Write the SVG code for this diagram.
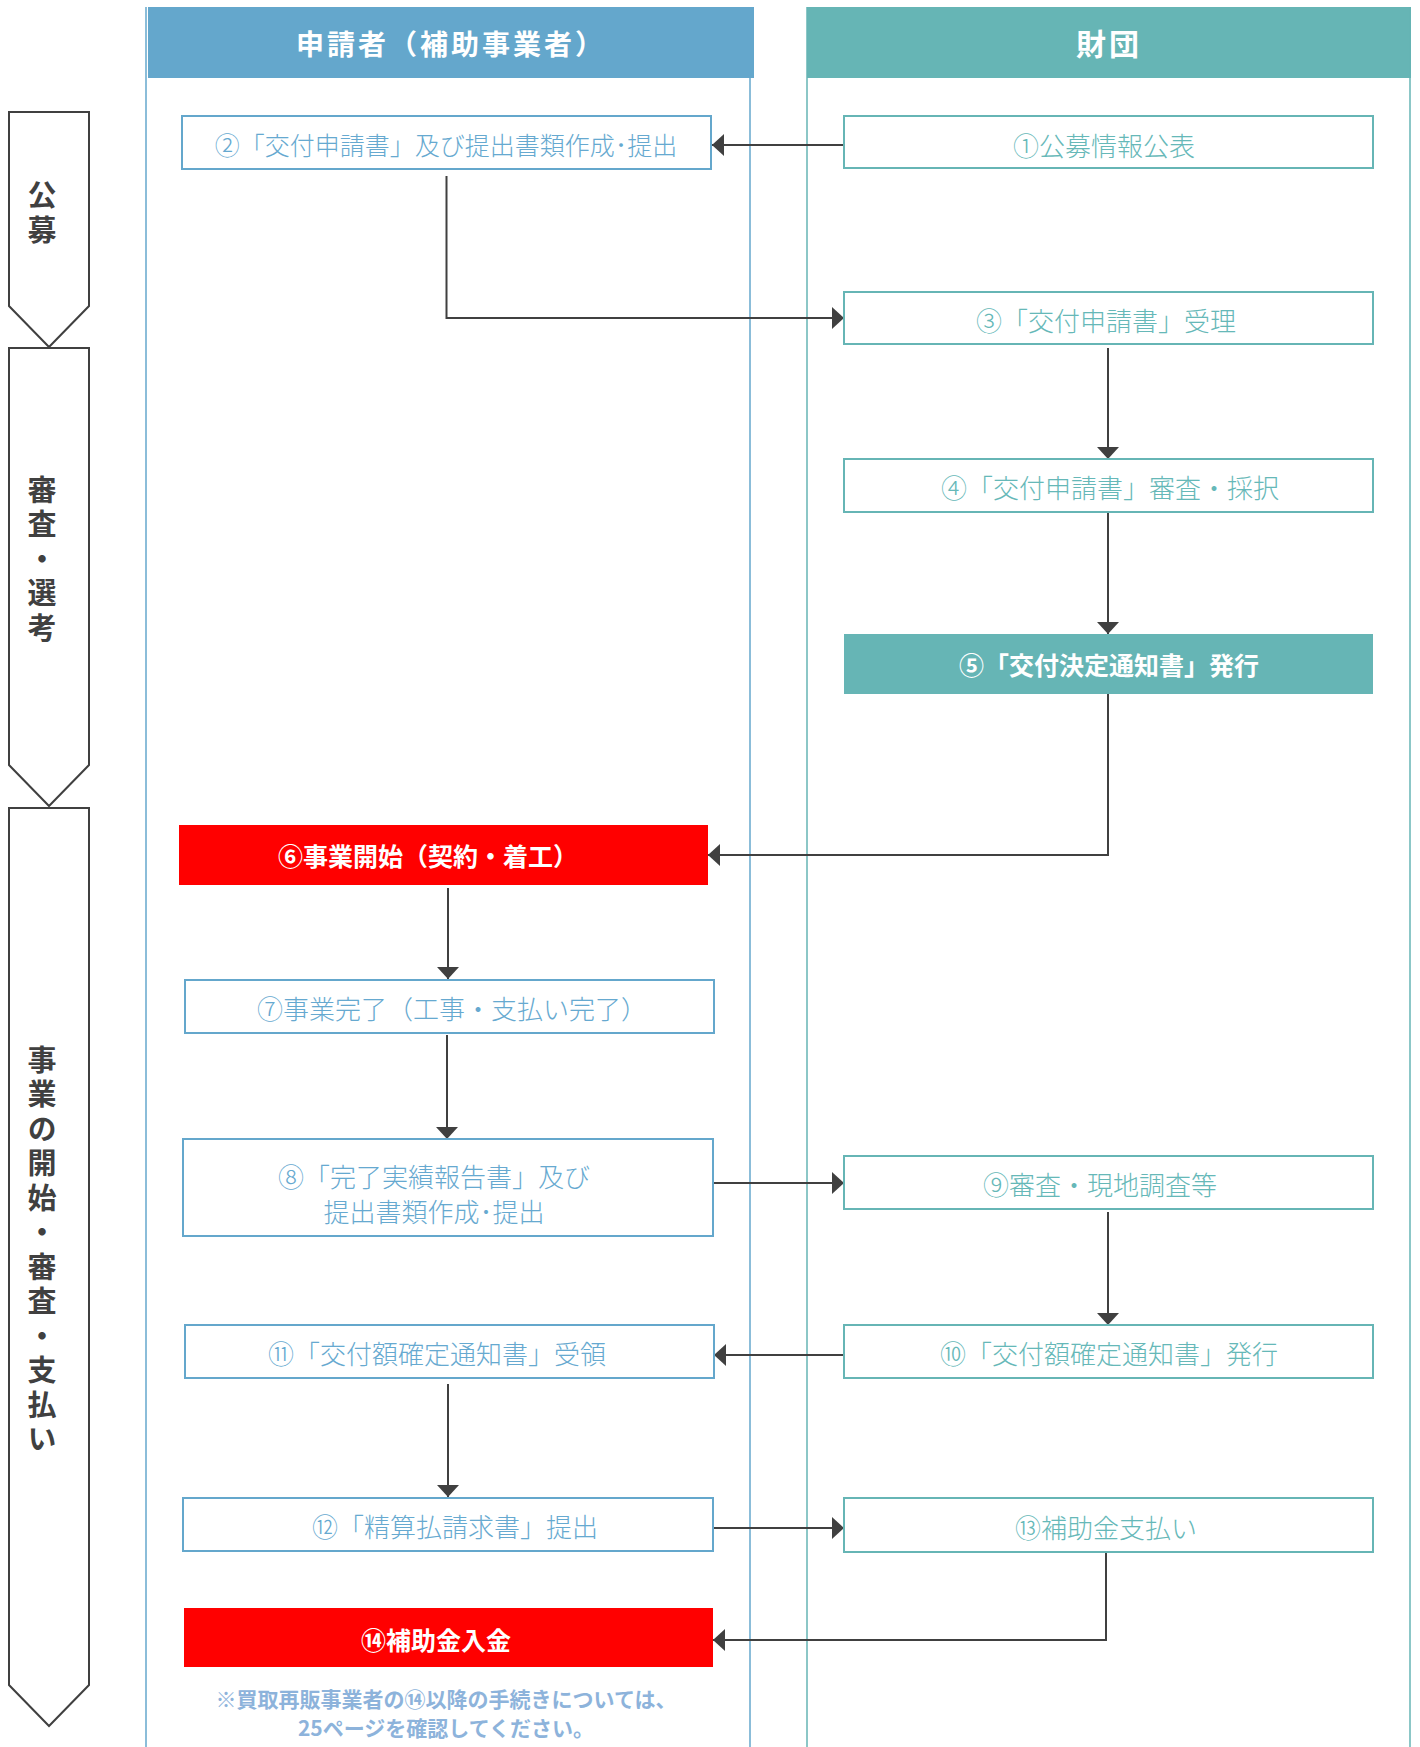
<svg xmlns="http://www.w3.org/2000/svg" width="1420" height="1747" viewBox="0 0 1420 1747">
<defs>
<style>
text{font-family:"Noto Sans CJK JP","Noto Sans CJK SC",sans-serif;dominant-baseline:central;text-anchor:middle}
.lane-b{fill:none;stroke:#64A7CC;stroke-width:1.5}
.lane-t{fill:none;stroke:#66B5B5;stroke-width:1.5}
.hdr{font-size:28px;font-weight:700;fill:#fff;letter-spacing:3px}
.nb rect{fill:#fff;stroke:#64A7CC;stroke-width:2}
.nb text{fill:#66A9D0;font-size:26px;font-weight:300}
.nt rect{fill:#fff;stroke:#66B5B5;stroke-width:2}
.nt text{fill:#66B8B8;font-size:26px;font-weight:300}
.red rect{fill:#FF0000}
.red text{fill:#fff;font-size:25px;font-weight:700}
.tealf rect{fill:#66B5B5}
.tealf text{fill:#fff;font-size:25px;font-weight:700}
.phase path{fill:#fff;stroke:#404040;stroke-width:2}
.phase text{fill:#404040;font-size:29px;font-weight:700;writing-mode:vertical-rl;text-anchor:start}
.conn path{fill:none;stroke:#404040;stroke-width:2;marker-end:url(#ah)}
.note{fill:#8DB3DB;font-size:21px;font-weight:700}
</style>
<marker id="ah" markerUnits="userSpaceOnUse" markerWidth="12" markerHeight="22" refX="12" refY="11" orient="auto">
<path d="M0,0 L12,11 L0,22 Z" fill="#404040"/>
</marker>
</defs>
<rect width="1420" height="1747" fill="#fff"/>

<g id="lane-applicant">
<rect x="148" y="7" width="606" height="71" fill="#64A7CC"/>
<line class="lane-b" x1="146" y1="7" x2="146" y2="1747"/>
<line class="lane-b" x1="750" y1="7" x2="750" y2="1747"/>
<text class="hdr" x="451" y="43">申請者（補助事業者）</text>
</g>
<g id="lane-foundation">
<rect x="807" y="7" width="604" height="71" fill="#66B5B5"/>
<line class="lane-t" x1="807" y1="7" x2="807" y2="1747"/>
<line class="lane-t" x1="1410" y1="7" x2="1410" y2="1747"/>
<text class="hdr" x="1109" y="42" style="font-size:30px">財団</text>
</g>

<g id="phase-1" class="phase">
<path d="M9,112 H89 V306 L49,347 L9,306 Z"/>
<text x="42" y="180" letter-spacing="6">公募</text>
</g>
<g id="phase-2" class="phase">
<path d="M9,348 H89 V765 L49,806 L9,765 Z"/>
<text x="42" y="475" letter-spacing="5.6">審査・選考</text>
</g>
<g id="phase-3" class="phase">
<path d="M9,808 H89 V1685 L49,1726 L9,1685 Z"/>
<text x="42" y="1045" letter-spacing="5.5">事業の開始・審査・支払い</text>
</g>

<g id="connectors" class="conn">
<path d="M844,145 H712"/>
<path d="M446.5,176 V318 H844"/>
<path d="M1108,348 V459"/>
<path d="M1108,513 V634"/>
<path d="M1108,694 V855 H708"/>
<path d="M448,888 V979"/>
<path d="M447,1035 V1139"/>
<path d="M713,1183 H844"/>
<path d="M1108,1212 V1325"/>
<path d="M844,1355 H714"/>
<path d="M448,1384 V1497"/>
<path d="M713,1528 H844"/>
<path d="M1106,1552 V1640 H713"/>
</g>

<g id="n1" class="nt"><rect x="844" y="116" width="529" height="52"/><text x="1104" y="144">①公募情報公表</text></g>
<g id="n2" class="nb"><rect x="182" y="116" width="529" height="53"/><text x="446" y="144" style="font-size:25px">②「交付申請書」及び提出書類作成･提出</text></g>
<g id="n3" class="nt"><rect x="844" y="292" width="529" height="52"/><text x="1106" y="319">③「交付申請書」受理</text></g>
<g id="n4" class="nt"><rect x="844" y="459" width="529" height="53"/><text x="1110" y="486">④「交付申請書」審査・採択</text></g>
<g id="n5" class="tealf"><rect x="844" y="634" width="529" height="60"/><text x="1109" y="664">⑤「交付決定通知書」発行</text></g>
<g id="n6" class="red"><rect x="179" y="825" width="529" height="60"/><text x="428" y="855">⑥事業開始（契約・着工）</text></g>
<g id="n7" class="nb"><rect x="185" y="980" width="529" height="53"/><text x="452" y="1007">⑦事業完了（工事・支払い完了）</text></g>
<g id="n8" class="nb"><rect x="183" y="1139" width="530" height="97"/><text x="434" y="1175">⑧「完了実績報告書」及び</text><text x="434" y="1210">提出書類作成･提出</text></g>
<g id="n9" class="nt"><rect x="844" y="1156" width="529" height="53"/><text x="1100" y="1183">⑨審査・現地調査等</text></g>
<g id="n10" class="nt"><rect x="844" y="1325" width="529" height="53"/><text x="1109" y="1352">⑩「交付額確定通知書」発行</text></g>
<g id="n11" class="nb"><rect x="185" y="1325" width="529" height="53"/><text x="437" y="1352">⑪「交付額確定通知書」受領</text></g>
<g id="n12" class="nb"><rect x="183" y="1498" width="530" height="53"/><text x="455" y="1525">⑫「精算払請求書」提出</text></g>
<g id="n13" class="nt"><rect x="844" y="1498" width="529" height="54"/><text x="1106" y="1526">⑬補助金支払い</text></g>
<g id="n14" class="red"><rect x="184" y="1608" width="529" height="59"/><text x="436" y="1639">⑭補助金入金</text></g>

<g id="note">
<text class="note" x="446" y="1698">※買取再販事業者の⑭以降の手続きについては、</text>
<text class="note" x="446" y="1727">25ページを確認してください。</text>
</g>
</svg>
